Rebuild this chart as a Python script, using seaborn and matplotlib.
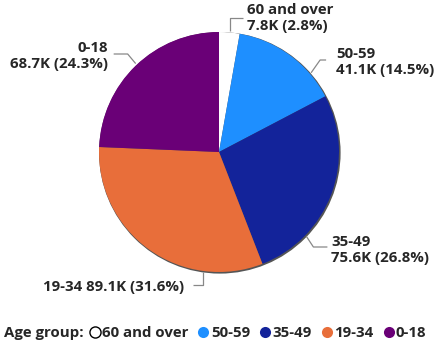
import numpy as np
import matplotlib
matplotlib.use("Agg")
import matplotlib.pyplot as plt
from matplotlib.lines import Line2D
from matplotlib.patches import Circle
import seaborn as sns

# Age-group population (thousands) and shares
groups = ["60 and over", "50-59", "35-49", "19-34", "0-18"]
values_k = [7.8, 41.1, 75.6, 89.1, 68.7]
shares = [2.8, 14.5, 26.8, 31.6, 24.3]
colors = ["#FFFFFF", "#1E8FFF", "#13239A", "#E86E3A", "#6A0077"]

sns.set_theme(style="white")
plt.rcParams["font.family"] = ["Open Sans", "DejaVu Sans"]
plt.rcParams["font.weight"] = "bold"

W, H = 440, 346
fig = plt.figure(figsize=(W / 100, H / 100), dpi=100)
ax = fig.add_axes([0, 0, 1, 1])

cx, cy, R = 219, H - 152, 120

# soft shadow rim behind the pie
ax.add_patch(Circle((cx + 0.8, cy - 0.8), R + 0.8, facecolor="#555555",
                    edgecolor="none", zorder=0))

wedges, _ = ax.pie(values_k, colors=colors, startangle=90, counterclock=False,
                   center=(cx, cy), radius=R,
                   wedgeprops=dict(linewidth=0, edgecolor="none"))
for w in wedges:
    w.set_zorder(1)

ax.set_xlim(0, W)
ax.set_ylim(0, H)
ax.set_aspect("equal")
ax.axis("off")

fs = 10.8
lc = "#888888"
ls = 1.15


def edge(angle_deg, r=R + 1.5):
    a = np.deg2rad(angle_deg)
    return cx + r * np.cos(a), cy + r * np.sin(a)


def leader(points):
    xs, ys = zip(*points)
    ax.plot(xs, ys, color=lc, lw=0.9, zorder=2, solid_capstyle="butt")


def txt(i, two_lines=True):
    if two_lines:
        return f"{groups[i]}\n{values_k[i]}K ({shares[i]}%)"
    return f"{groups[i]} {values_k[i]}K ({shares[i]}%)"


# 60 and over
x0, y0 = edge(85)
leader([(x0, y0), (x0, H - 18), (x0 + 13, H - 18)])
ax.text(247, H - 18, txt(0), fontsize=fs, fontweight="bold", ha="left",
        va="center", linespacing=ls)

# 50-59
x0, y0 = edge(40.7)
leader([(x0, y0), (x0 + 9, H - 60), (x0 + 15, H - 60)])
ax.text(336, H - 62, txt(1), fontsize=fs, fontweight="bold", ha="left",
        va="center", linespacing=ls)

# 35-49
x0, y0 = edge(-44)
leader([(x0, y0), (x0 + 7, H - 247), (x0 + 21, H - 247)])
ax.text(331, H - 250, txt(2), fontsize=fs, fontweight="bold", ha="left",
        va="center", linespacing=ls)

# 19-34
x0, y0 = edge(-97.4)
leader([(x0, y0), (x0, H - 285), (x0 - 10, H - 285)])
ax.text(184, H - 287, txt(3, False), fontsize=fs, fontweight="bold",
        ha="right", va="center")

# 0-18
x0, y0 = edge(133.3)
leader([(x0, y0), (x0 - 8, H - 54), (x0 - 22, H - 54)])
ax.text(108, H - 56, txt(4), fontsize=fs, fontweight="bold", ha="right",
        va="center", linespacing=ls, multialignment="right")

# legend
fig.text(4 / W, 1 - 333 / H, "Age group:", fontsize=fs, fontweight="bold",
         ha="left", va="center")
handles = [Line2D([], [], marker="o", linestyle="none", markersize=8,
                  markerfacecolor=c,
                  markeredgecolor="#000000" if c == "#FFFFFF" else c,
                  markeredgewidth=1.0 if c == "#FFFFFF" else 0)
           for c in colors]
fig.legend(handles, groups, loc="center left", bbox_to_anchor=(87 / W, 1 - 333 / H),
           ncol=5, frameon=False, handletextpad=0.0,
           columnspacing=0.5, handlelength=1.0, borderpad=0, borderaxespad=0,
           prop=dict(weight="bold", size=fs))

fig.savefig("out.png", dpi=100)
